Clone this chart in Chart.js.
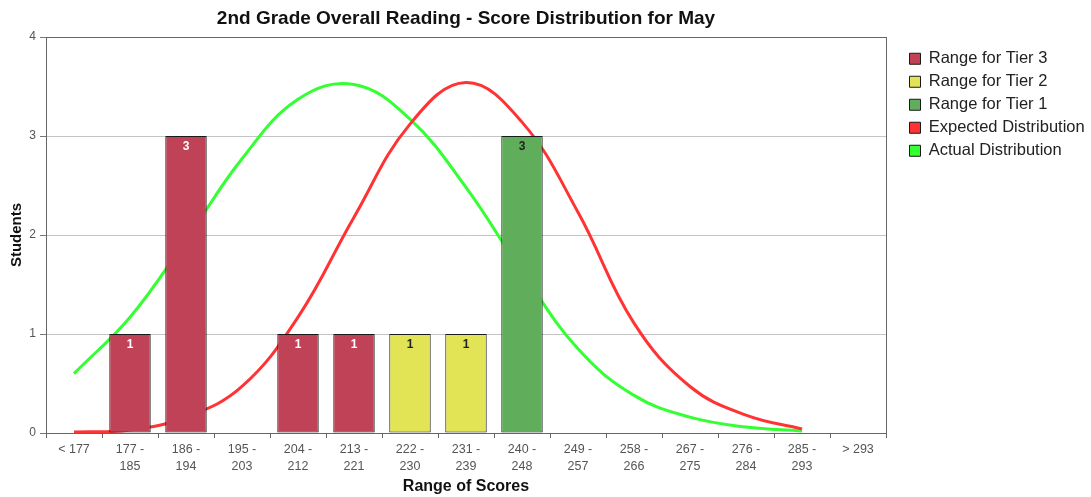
<!DOCTYPE html>
<html>
<head>
<meta charset="utf-8">
<script src="https://cdn.jsdelivr.net/npm/chart.js@4.4.1/dist/chart.umd.min.js"></script>
<style>
  html, body { margin: 0; padding: 0; background: #fff; }
  #wrap { width: 1091px; height: 497px; position: relative; }
</style>
</head>
<body>
<div id="wrap"><canvas id="chart"></canvas></div>
<script>
// Score ranges along the x axis
const scoreRanges = [
    '< 177', ['177 -', '185'], ['186 -', '194'], ['195 -', '203'], ['204 -', '212'],
    ['213 -', '221'], ['222 -', '230'], ['231 -', '239'], ['240 -', '248'], ['249 -', '257'],
    ['258 -', '266'], ['267 -', '275'], ['276 -', '284'], ['285 -', '293'], '> 293'
];

// Student counts per tier (null where the tier has no bar)
const tier3Counts = [null, 1, 3, null, 1, 1, null, null, null, null, null, null, null, null, null];
const tier2Counts = [null, null, null, null, null, null, 1, 1, null, null, null, null, null, null, null];
const tier1Counts = [null, null, null, null, null, null, null, null, 3, null, null, null, null, null, null];

// Distribution curves
const expectedDist = [0.01, 0.03, 0.16, 0.47, 1.17, 2.18, 3.12, 3.54, 3.14, 2.23, 1.11, 0.47, 0.18, 0.04, null];
const actualDist   = [0.60, 1.17, 1.95, 2.77, 3.37, 3.52, 3.17, 2.48, 1.63, 0.85, 0.38, 0.16, 0.06, 0.02, null];

const yTicks = [0, 1, 2, 3, 4];

const FONT = "'Liberation Sans', Arial, sans-serif";

// Numbers written inside the top of each bar
const barLabels = {
    id: 'barLabels',
    afterDatasetsDraw(chart) {
        const ctx = chart.ctx;
        ctx.save();
        ctx.font = 'bold 12px ' + FONT;
        ctx.textAlign = 'center';
        ctx.textBaseline = 'top';
        chart.data.datasets.forEach((ds, i) => {
            if (ds.type !== 'bar') return;
            const meta = chart.getDatasetMeta(i);
            meta.data.forEach((bar, j) => {
                const v = ds.data[j];
                if (v == null) return;
                ctx.fillStyle = ds.labelColor;
                ctx.fillText(String(v), bar.x, bar.y + 5);
            });
        });
        ctx.restore();
    }
};

// Frame around the plot area
const plotFrame = {
    id: 'plotFrame',
    afterDraw(chart) {
        const a = chart.chartArea;
        const ctx = chart.ctx;
        ctx.save();
        ctx.strokeStyle = '#666';
        ctx.lineWidth = 1;
        ctx.strokeRect(a.left + 0.5, a.top + 0.5, a.right - a.left, a.bottom - a.top);
        ctx.restore();
    }
};

// Fixed legend column on the right, moved down a bit
const legendPlace = {
    id: 'legendPlace',
    afterInit(chart) {
        const legend = chart.legend;
        const fit = legend.fit;
        legend.fit = function () {
            fit.call(this);
            this.width = 205;
        };
    },
    beforeDraw(chart) {
        const legend = chart.legend;
        legend.left = chart.chartArea.right + 17;
        legend.top = 44;
    }
};

const barStyle = {
    type: 'bar',
    borderColor: '#1a1a1a',
    borderWidth: 1,
    borderSkipped: false,
    grouped: false,
    barPercentage: 0.74,
    categoryPercentage: 1,
    order: 0
};

new Chart(document.getElementById('chart'), {
    data: {
        labels: scoreRanges,
        datasets: [
            Object.assign({}, barStyle, { label: 'Range for Tier 3', data: tier3Counts, backgroundColor: '#c04257', labelColor: '#fff' }),
            Object.assign({}, barStyle, { label: 'Range for Tier 2', data: tier2Counts, backgroundColor: '#e2e355', labelColor: '#222' }),
            Object.assign({}, barStyle, { label: 'Range for Tier 1', data: tier1Counts, backgroundColor: '#60ad5b', labelColor: '#222' }),
            {
                type: 'line', label: 'Expected Distribution', data: expectedDist,
                borderColor: '#ff3333', backgroundColor: '#ff3333', borderWidth: 3,
                pointRadius: 0, tension: 0.4, fill: false, order: 1
            },
            {
                type: 'line', label: 'Actual Distribution', data: actualDist,
                borderColor: '#33ff33', backgroundColor: '#33ff33', borderWidth: 3,
                pointRadius: 0, tension: 0.4, fill: false, order: 1
            }
        ]
    },
    options: {
        responsive: true,
        maintainAspectRatio: false,
        animation: false,
        layout: { padding: 0 },
        plugins: {
            tooltip: { enabled: false },
            title: {
                display: true,
                text: '2nd Grade Overall Reading - Score Distribution for May',
                fullSize: false,
                color: '#111',
                font: { family: FONT, size: 19, weight: 'bold' },
                padding: { top: 7.6, bottom: 6.6 }
            },
            legend: {
                position: 'right',
                align: 'start',
                labels: {
                    color: '#222',
                    font: { family: FONT, size: 16.5 },
                    boxWidth: 11,
                    boxHeight: 11,
                    padding: 6.5,
                    generateLabels(chart) {
                        const items = Chart.defaults.plugins.legend.labels.generateLabels(chart);
                        return items.map(it => Object.assign(it, {
                            strokeStyle: '#1a1a1a', lineWidth: 1, lineDash: [], fillStyle: chart.data.datasets[it.datasetIndex].backgroundColor
                        }));
                    }
                }
            }
        },
        scales: {
            x: {
                offset: true,
                afterFit: s => { s.height = 64; },
                grid: { offset: true, drawOnChartArea: false, tickLength: 5, tickColor: '#666' },
                border: { color: '#666' },
                ticks: { color: '#555', font: { family: FONT, size: 12.5, lineHeight: 1.35 }, maxRotation: 0, autoSkip: false, padding: 3 },
                title: { display: true, text: 'Range of Scores', color: '#111', font: { family: FONT, size: 16, weight: 'bold' }, padding: { top: 0, bottom: 1 } }
            },
            y: {
                min: 0, max: 4,
                afterFit: s => { s.width = 46; },
                afterBuildTicks: s => { s.ticks = yTicks.map(v => ({ value: v })); },
                grid: { color: '#c4c4c4', tickLength: 6, tickColor: '#777' },
                border: { color: '#666' },
                ticks: { color: '#555', font: { family: FONT, size: 12 }, padding: 4 },
                title: { display: true, text: 'Students', color: '#111', font: { family: FONT, size: 15, weight: 'bold' }, padding: { top: 7.5, bottom: 0 } }
            }
        }
    },
    plugins: [barLabels, plotFrame, legendPlace]
});
</script>
</body>
</html>
